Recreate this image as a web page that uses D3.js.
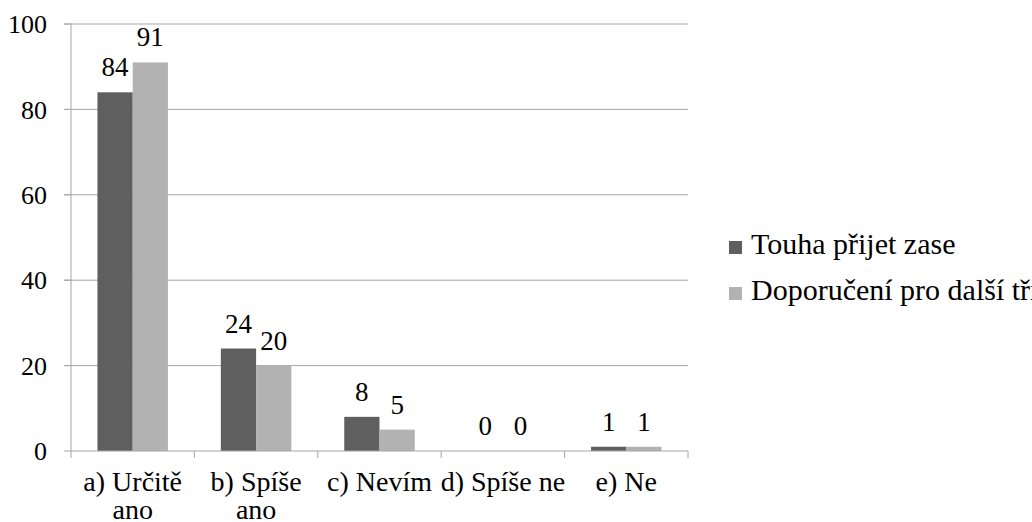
<!DOCTYPE html>
<html>
<head>
<meta charset="utf-8">
<script src="https://cdn.jsdelivr.net/npm/d3@7"></script>
</head>
<body style="margin:0">
<div id="chart"></div>
<script>
const categories = ["a) Určitě ano", "b) Spíše ano", "c) Nevím", "d) Spíše ne", "e) Ne"];
const seriesNames = ["Touha přijet zase", "Doporučení pro další třídy"];
const touha = [84, 24, 8, 0, 1];
const doporuceni = [91, 20, 5, 0, 1];
const yTicks = [0, 20, 40, 60, 80, 100];

const FONT = '"Liberation Serif"';
const colors = ["#5f5f5f", "#b2b2b2"];
const W = 1032, H = 522;
const margin = { top: 24, left: 71, right: 344, bottom: 71 };
const width = W - margin.left - margin.right,
      height = H - margin.top - margin.bottom;

const rows = categories.map((c, i) => ({ cat: c, vals: [touha[i], doporuceni[i]] }));

const svg = d3.select("#chart").append("svg")
    .attr("width", W).attr("height", H);
const g = svg.append("g").attr("transform", `translate(${margin.left},${margin.top})`);

const x = d3.scaleBand().domain(categories).range([0, width]);
const y = d3.scaleLinear().domain([0, 100]).range([height, 0]);
const barW = x.bandwidth() / 3.5;
const x1 = d3.scaleBand().domain([0, 1]).range([barW * 0.75, barW * 2.75]);

// gridlines
g.selectAll(".grid").data(yTicks.filter(t => t > 0)).enter().append("line")
    .attr("x1", -7).attr("x2", width)
    .attr("y1", d => y(d)).attr("y2", d => y(d))
    .attr("stroke", "#a6a6a6");

// y axis, drawn by hand so the texts carry no inherited sans-serif
g.append("line").attr("x1", 0).attr("x2", 0).attr("y1", 0).attr("y2", height).attr("stroke", "#a6a6a6");
g.selectAll(".ytick").data(yTicks).enter().append("line")
    .attr("x1", -7).attr("x2", 0).attr("y1", d => y(d)).attr("y2", d => y(d)).attr("stroke", "#a6a6a6");
g.selectAll(".ylab").data(yTicks).enter().append("text")
    .attr("x", -24).attr("y", d => y(d)).attr("dy", "0.35em").attr("text-anchor", "end")
    .style("font-family", FONT).style("font-size", "26px")
    .text(d => d);

// bars
const grp = g.selectAll(".grp").data(rows).enter().append("g")
    .attr("transform", d => `translate(${x(d.cat)},0)`);
grp.selectAll("rect").data(d => d.vals).enter().append("rect")
    .attr("x", (d, i) => x1(i)).attr("width", x1.bandwidth())
    .attr("y", d => y(d)).attr("height", d => height - y(d))
    .attr("fill", (d, i) => colors[i]);
grp.selectAll(".lbl").data(d => d.vals).enter().append("text")
    .attr("x", (d, i) => x1(i) + x1.bandwidth() / 2)
    .attr("y", d => y(d) - 16)
    .attr("text-anchor", "middle")
    .style("font-family", FONT).style("font-size", "27px")
    .text(d => d);

// x axis
g.append("line").attr("x1", 0).attr("x2", width).attr("y1", height).attr("y2", height).attr("stroke", "#a6a6a6");
g.selectAll(".sep").data(d3.range(categories.length + 1)).enter().append("line")
    .attr("x1", i => i * x.bandwidth()).attr("x2", i => i * x.bandwidth())
    .attr("y1", height).attr("y2", height + 7)
    .attr("stroke", "#a6a6a6");
g.selectAll(".xlab").data(categories).enter().append("text")
    .attr("text-anchor", "middle")
    .style("font-family", FONT).style("font-size", "28px")
    .each(function(d) {
      // long labels break before the last word
      const t = d3.select(this);
      const k = d.lastIndexOf(" ");
      const lines = d.length > 11 ? [d.slice(0, k), d.slice(k + 1)] : [d];
      lines.forEach((s, j) => t.append("tspan")
        .attr("x", x(d) + x.bandwidth() / 2).attr("y", height + 40 + j * 28).text(s));
    });

// legend
const leg = svg.append("g").attr("transform", "translate(729,254)");
seriesNames.forEach((s, i) => {
  const r = leg.append("g").attr("transform", `translate(0,${i * 46})`);
  r.append("rect").attr("y", -13).attr("width", 13).attr("height", 13).attr("fill", colors[i]);
  r.append("text").attr("x", 22).attr("y", 0)
    .style("font-family", FONT).style("font-size", "30px").text(s);
});
</script>
</body>
</html>
